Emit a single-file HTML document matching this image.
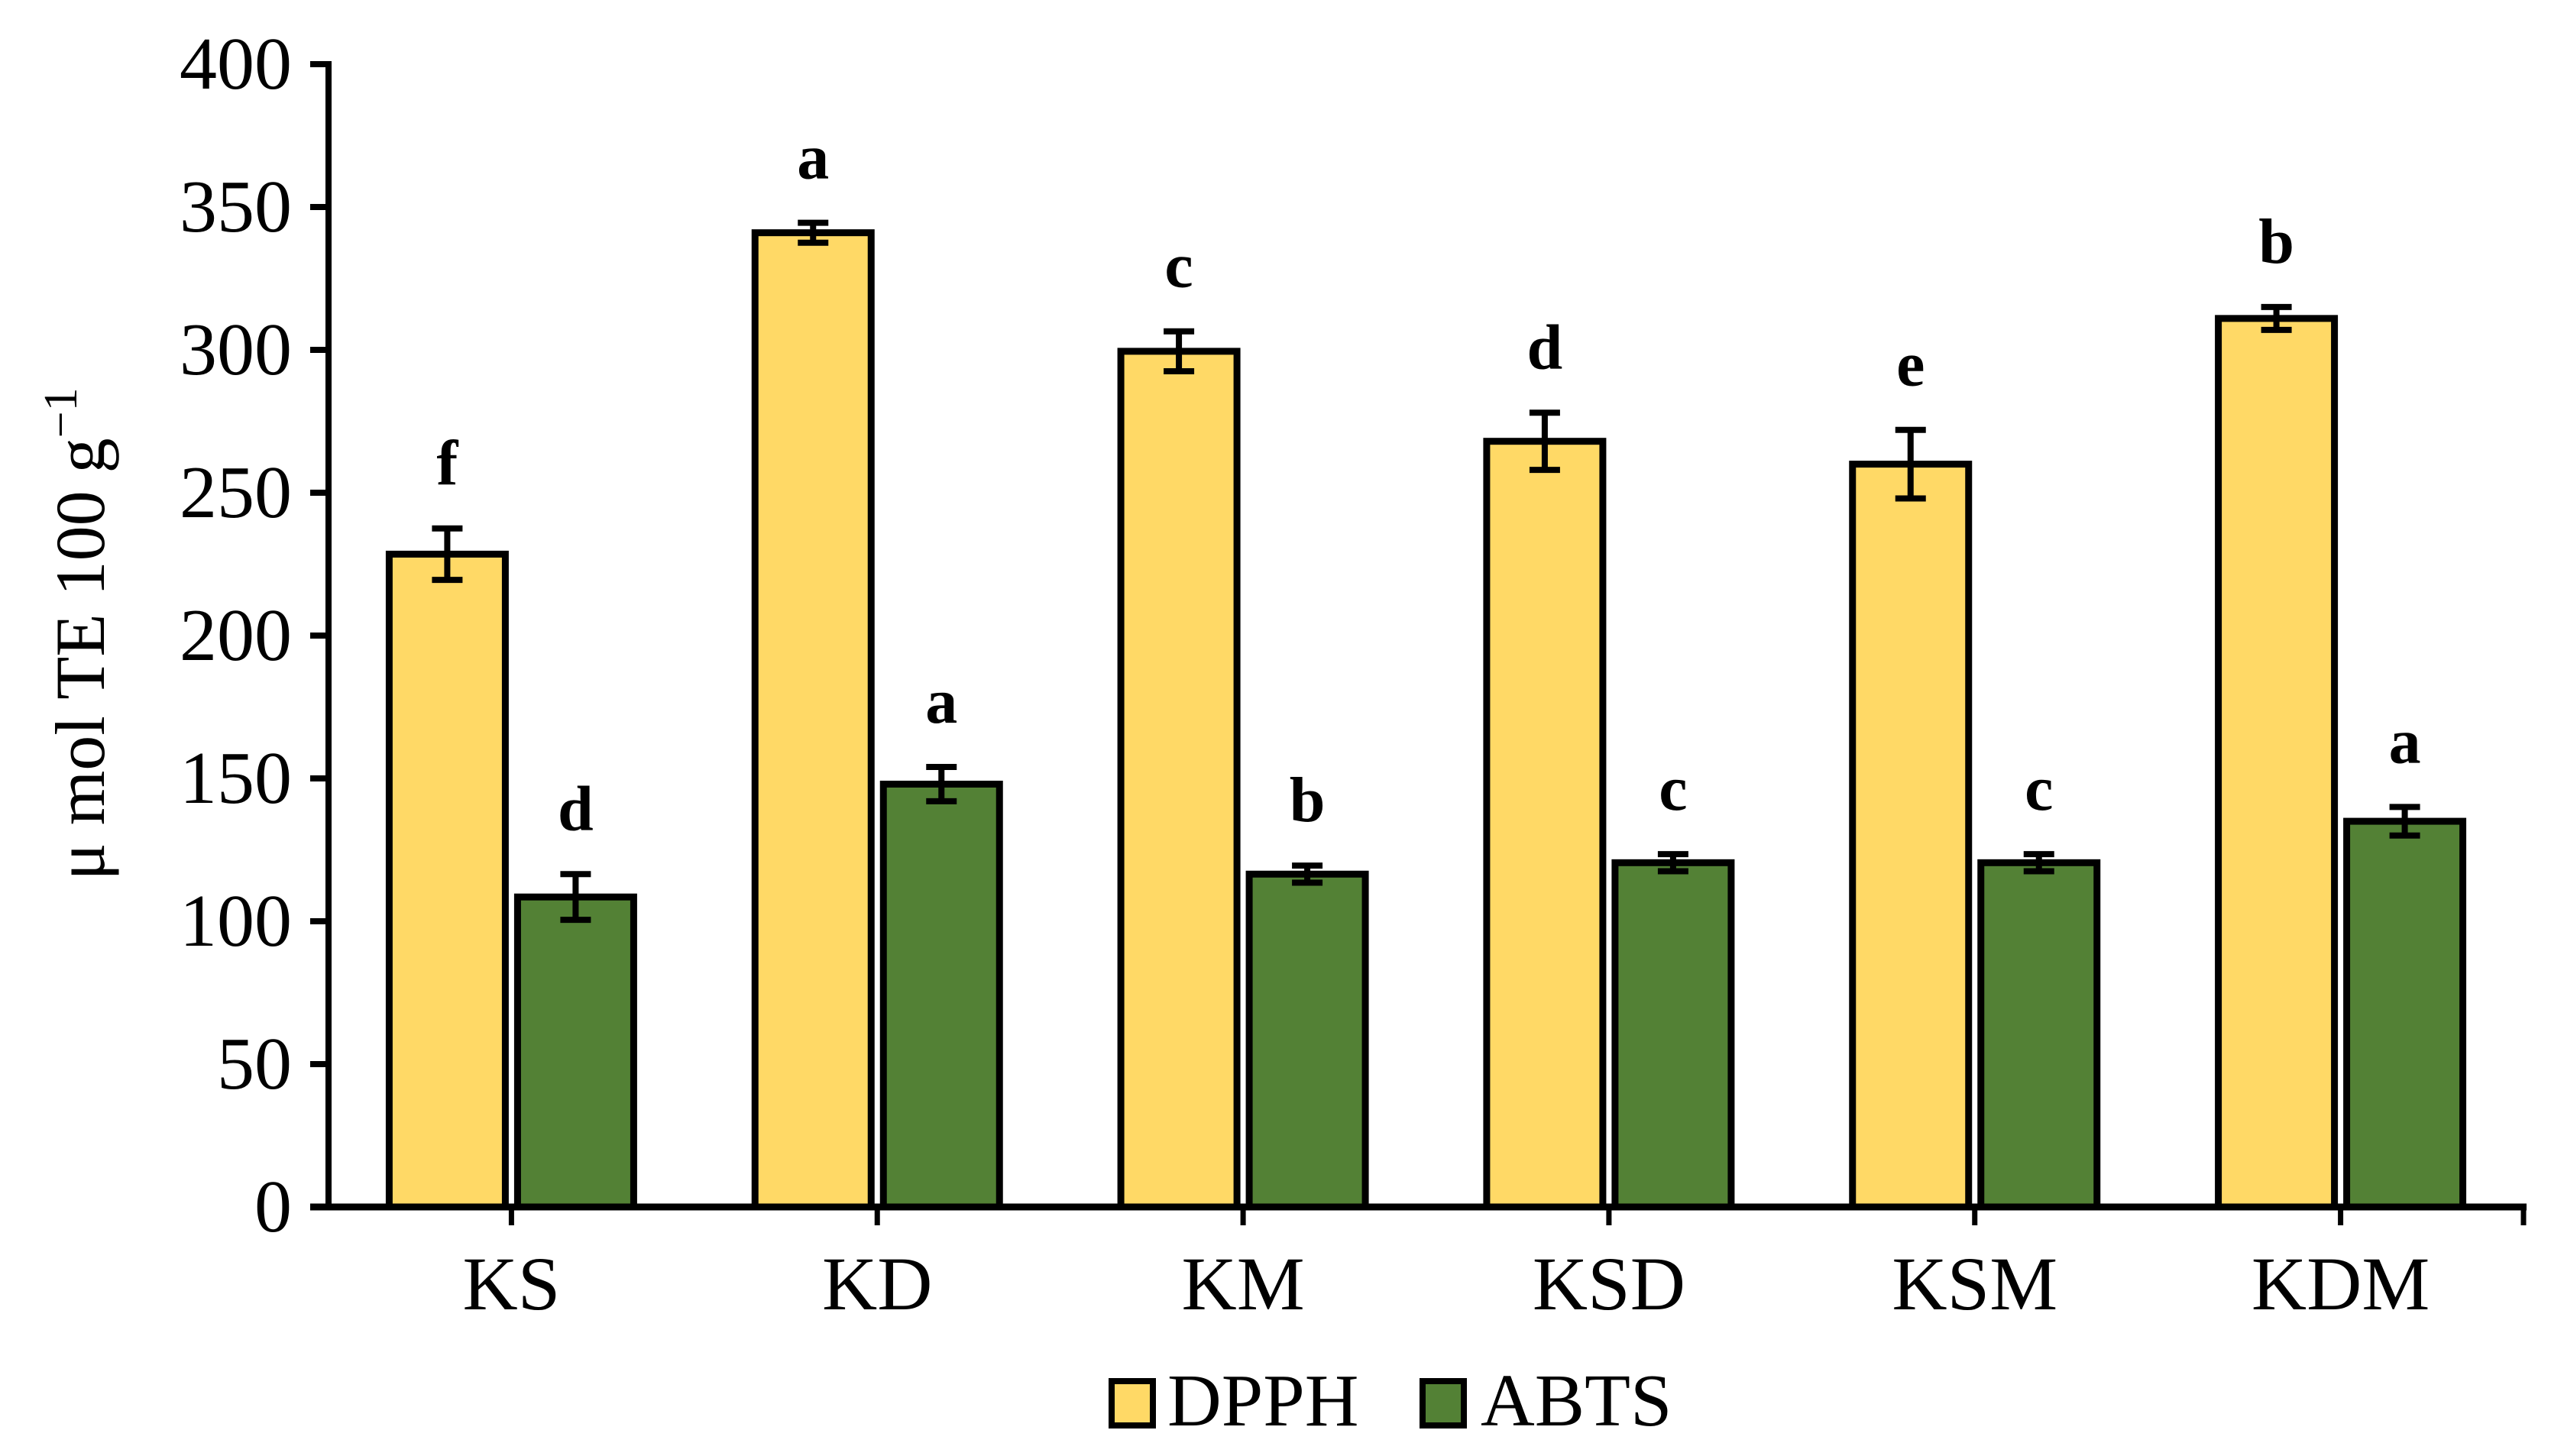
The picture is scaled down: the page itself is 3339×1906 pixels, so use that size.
<!DOCTYPE html>
<html><head><meta charset="utf-8"><style>
html,body{margin:0;padding:0;background:#fff;}
svg{display:block;}
text{font-family:"Liberation Serif",serif;fill:#000;}
</style></head>
<body>
<svg id="chart" width="3339" height="1906" viewBox="0 0 3339 1906" xmlns="http://www.w3.org/2000/svg">
<g id="axes"></g>
<g id="bars"></g>
<text transform="translate(136,830) rotate(-90)" text-anchor="middle" font-size="92">μ mol TE 100 g<tspan dy="-36" font-size="62">−1</tspan></text>
<g>
<rect x="1455" y="1808" width="54" height="58" fill="#FFD966" stroke="#000" stroke-width="8"/>
<text x="1528" y="1866" font-size="98">DPPH</text>
<rect x="1862" y="1808" width="54" height="58" fill="#538135" stroke="#000" stroke-width="8"/>
<text x="1938" y="1866" font-size="98">ABTS</text>
</g>
</svg>
<script>
const categories = ["KS","KD","KM","KSD","KSM","KDM"];
const dpph = [228.5, 341, 299.5, 268, 260, 311];
const dpphErr = [9, 3.5, 7, 10, 12, 4];
const dpphLetters = ["f","a","c","d","e","b"];
const abts = [108.5, 148, 116.5, 120.5, 120.5, 135];
const abtsErr = [8, 6, 3, 3, 3, 5];
const abtsLetters = ["d","a","b","c","c","a"];
const yTicks = [0,50,100,150,200,250,300,350,400];

const NS = "http://www.w3.org/2000/svg";
const X0 = 430, X1 = 3303, Y0 = 1580, Ytop = 84, YMAX = 400;
const groupW = (X1 - X0) / categories.length;
function yScale(v){ return Y0 - (v / YMAX) * (Y0 - Ytop); }
function xCenter(i){ return X0 + groupW * (i + 0.5); }
function mk(tag, attrs, parent){
  const e = document.createElementNS(NS, tag);
  for (const k in attrs) e.setAttribute(k, attrs[k]);
  parent.appendChild(e);
  return e;
}
const axes = document.getElementById('axes');
const bars = document.getElementById('bars');

const barW = 152, off = 8;
function drawSeries(vals, errs, letters, fill, side, name){
  vals.forEach((v, i) => {
    const cx = xCenter(i);
    const x = side < 0 ? cx - off - barW : cx + off;
    const yt = yScale(v);
    const r = mk('rect', {x: x, y: yt, width: barW, height: Y0 - yt, fill: fill, stroke: '#000', 'stroke-width': 9}, bars);
    
    
    const bx = x + barW / 2;
    const ye1 = yScale(v + errs[i]), ye2 = yScale(v - errs[i]);
    const eg = mk('g', {stroke: '#000', 'stroke-width': 8}, bars);
    
    
    mk('line', {x1: bx, x2: bx, y1: ye1, y2: ye2}, eg);
    mk('line', {x1: bx - 20, x2: bx + 20, y1: ye1, y2: ye1}, eg);
    mk('line', {x1: bx - 20, x2: bx + 20, y1: ye2, y2: ye2}, eg);
    const t = mk('text', {x: bx, y: ye1 - 58, 'text-anchor': 'middle', 'font-size': 84, 'font-weight': 'bold'}, bars);
    t.textContent = letters[i];
    
    
  });
}
drawSeries(dpph, dpphErr, dpphLetters, '#FFD966', -1, 'dpph');
drawSeries(abts, abtsErr, abtsLetters, '#538135', 1, 'abts');

const ya = mk('line', {x1: X0, x2: X0, y1: Ytop - 4, y2: Y0 + 4, stroke: '#000', 'stroke-width': 8}, axes);


yTicks.forEach(v => {
  const y = yScale(v);
  const tk = mk('line', {x1: X0 - 24, x2: X0, y1: y, y2: y, stroke: '#000', 'stroke-width': 8}, axes);
  
  
  const t = mk('text', {x: 382, y: y + 32, 'text-anchor': 'end', 'font-size': 98}, axes);
  t.textContent = v;
  
  
});
const xa = mk('line', {x1: X0 - 24, x2: X1 + 4, y1: Y0, y2: Y0, stroke: '#000', 'stroke-width': 9}, axes);


categories.forEach((c, i) => {
  const cx = xCenter(i);
  const tk = mk('line', {x1: cx, x2: cx, y1: Y0, y2: Y0 + 24, stroke: '#000', 'stroke-width': 7}, axes);
  
  
  const t = mk('text', {x: cx, y: 1714, 'text-anchor': 'middle', 'font-size': 100}, axes);
  t.textContent = c;
  
  
});
const endTick = mk('line', {x1: X1, x2: X1, y1: Y0, y2: Y0 + 24, stroke: '#000', 'stroke-width': 7}, axes);


</script>
</body></html>
